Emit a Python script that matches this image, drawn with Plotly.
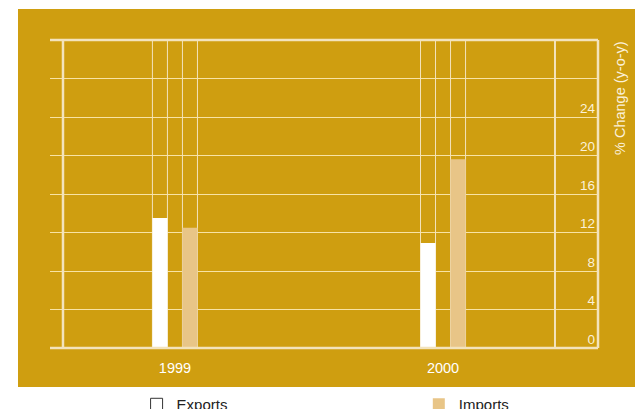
import plotly.graph_objects as go

years = ["1999", "2000"]
exports = [13.5, 10.9]
imports = [12.5, 19.6]
y_ticks = [0, 4, 8, 12, 16, 20, 24, 28, 32]
y_tick_labels = ["0", "4", "8", "12", "16", "20", "24", "", ""]
y_max = 32

GOLD = "#CF9E10"
CREAM = "#F3E3BC"
GRID = "rgba(255,238,190,0.85)"
TAN = "#E8C587"
FONT = "Liberation Sans, Arial, sans-serif"

W = 0.056
fig = go.Figure()
slot = [y_max] * len(years)
for off in (-1.5 * W, 0.5 * W):
    fig.add_trace(go.Bar(x=years, y=slot, width=W, offset=off,
                         marker=dict(color="rgba(0,0,0,0)", line=dict(color=CREAM, width=1)),
                         showlegend=False, hoverinfo="skip"))
fig.add_trace(go.Bar(x=years, y=exports, name="Exports", width=W, offset=-1.5 * W,
                     marker=dict(color="white", line=dict(width=0)),
                     showlegend=False))
fig.add_trace(go.Bar(x=years, y=imports, name="Imports", width=W, offset=0.5 * W,
                     marker=dict(color=TAN, line=dict(width=0)),
                     legend="legend2"))
# legend-only entry for Exports (outlined swatch as in the reference)
fig.add_trace(go.Bar(x=[None], y=[None], name="Exports",
                     marker=dict(color="white", line=dict(color="#333333", width=1)),
                     legend="legend"))

shapes = [
    dict(type="rect", xref="paper", yref="paper", x0=-0.0584, x1=1.1, y0=-0.1266, y1=1.1006,
         fillcolor=GOLD, line=dict(width=0), layer="below"),
    dict(type="line", xref="paper", yref="paper", x0=0, x1=1, y0=1, y1=1,
         line=dict(color=CREAM, width=2.5)),
    dict(type="line", xref="paper", yref="paper", x0=0, x1=1, y0=0, y1=0,
         line=dict(color=CREAM, width=2.5)),
    dict(type="line", xref="paper", yref="paper", x0=0.0237, x1=0.0237, y0=0, y1=1,
         line=dict(color=CREAM, width=2.5)),
    dict(type="line", xref="paper", yref="paper", x0=0.9215, x1=0.9215, y0=0, y1=1,
         line=dict(color=CREAM, width=2)),
    dict(type="line", xref="paper", yref="paper", x0=1, x1=1, y0=0, y1=1,
         line=dict(color=CREAM, width=2.5)),
]

leg_common = dict(orientation="h", yanchor="top", xanchor="left", y=-0.13,
                  font=dict(color="#222222", size=15), bgcolor="rgba(0,0,0,0)")

fig.update_layout(
    width=635, height=409,
    margin=dict(l=50, r=37, t=40, b=61, autoexpand=False),
    paper_bgcolor="white", plot_bgcolor="rgba(0,0,0,0)",
    barmode="overlay",
    font=dict(family=FONT, size=12, color="white"),
    shapes=shapes,
    xaxis=dict(range=[-0.466, 1.578], showgrid=False, zeroline=False, showline=False,
               tickfont=dict(color="white", size=14.5), ticklabelstandoff=9),
    yaxis=dict(range=[0, y_max], side="right", tickvals=y_ticks, ticktext=y_tick_labels,
               ticklabelposition="inside", ticklabelshift=-9,
               tickfont=dict(color="#FBF1DA", size=13.5),
               showgrid=True, gridcolor=GRID, gridwidth=1.3, zeroline=False, showline=False),
    legend=dict(x=0.158, **leg_common),
    legend2=dict(x=0.673, **leg_common),
    annotations=[dict(text="% Change (y-o-y)", textangle=-90, xref="paper", yref="paper",
                      x=1.04, y=1.003, xanchor="center", yanchor="top", showarrow=False,
                      font=dict(color="#FBF1DA", size=14.5))],
)

fig.write_html("out.html",
               config={"displayModeBar": False},
               post_script="document.documentElement.style.overflow='hidden';"
                           "document.body.style.overflow='hidden';"
                           "document.body.style.margin='0';")
